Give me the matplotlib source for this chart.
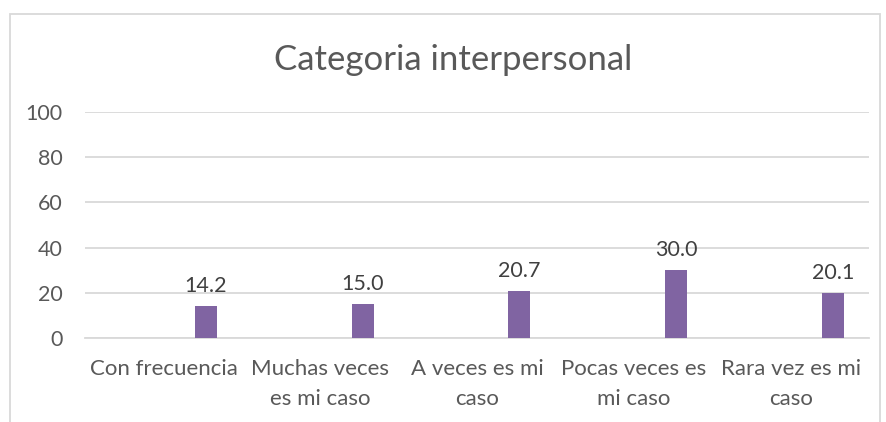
import matplotlib.pyplot as plt
import numpy as np
from matplotlib.patches import Rectangle

plt.rcParams['font.family'] = ['Lato', 'DejaVu Sans']

categories = ['Con frecuencia', 'Muchas veces\nes mi caso', 'A veces es mi\ncaso',
              'Pocas veces es\nmi caso', 'Rara vez es mi\ncaso']
values = [14.2, 15.0, 20.7, 30.0, 20.1]

txt = '#595959'
fig = plt.figure(figsize=(8.86, 4.22), dpi=100)
ax = fig.add_axes([0.096, 0.199, 0.885, 0.536])

x = np.arange(len(categories))
bx = x + 0.27
ax.bar(bx, values, width=0.14, color='#8064A2', zorder=3)
for xi, v in zip(bx, values):
    ax.annotate('%.1f' % v, (xi, v), xytext=(0, 7), textcoords='offset points',
                ha='center', va='bottom', fontsize=15.5, color='#404040')

ax.set_xlim(-0.5, 4.5)
ax.set_ylim(0, 100)
ax.set_yticks(range(0, 101, 20))
ax.set_xticks(x)
ax.set_xticklabels(categories, fontsize=16, color=txt, linespacing=1.65)
ax.tick_params(axis='y', labelsize=15.5, labelcolor=txt, length=0, pad=16)
ax.tick_params(axis='x', length=0, pad=15)
ax.grid(axis='y', color='#d9d9d9', lw=1.3, zorder=0)
for s in ['top', 'right', 'left']:
    ax.spines[s].set_visible(False)
ax.spines['bottom'].set_color('#d9d9d9')
ax.spines['bottom'].set_linewidth(1.3)

fig.text(0.511, 0.858, 'Categoria interpersonal', ha='center', va='center',
         fontsize=25, color=txt)

fig.patches.append(Rectangle((9.5 / 886, -0.1), (880 - 9.5) / 886, (422 - 14) / 422 + 0.1,
                             transform=fig.transFigure, fill=False,
                             edgecolor='#d9d9d9', lw=1.3, clip_on=False))

fig.savefig('out.png', dpi=100)
